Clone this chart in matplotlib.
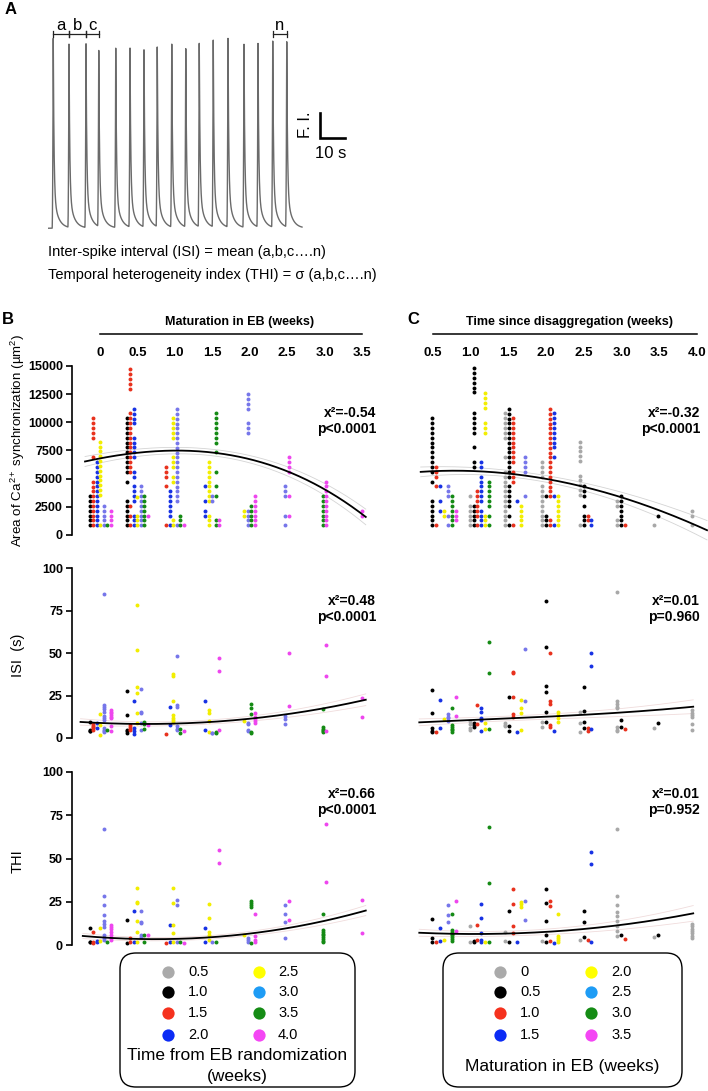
import numpy as np
import matplotlib
matplotlib.use("Agg")
import matplotlib.pyplot as plt
from matplotlib.patches import FancyBboxPatch

plt.rcParams['font.family'] = ['Liberation Sans', 'DejaVu Sans']
plt.rcParams['mathtext.fontset'] = 'custom'
plt.rcParams['mathtext.rm'] = 'Liberation Sans'
plt.rcParams['mathtext.it'] = 'Liberation Sans:italic'
plt.rcParams['mathtext.bf'] = 'Liberation Sans:bold'

# ---------------- Panel A: example trace ----------------
SPIKE_TIMES = [2.1, 8.4, 15.2, 20.3, 27.1, 32.8, 38.4, 43.7, 49.5, 55.1, 60.5,
               66.1, 72.0, 78.4, 84.0, 89.9, 95.5]
SPIKE_AMPS = [7.60, 7.33, 7.53, 7.16, 7.24, 7.26, 7.26, 7.33, 7.40, 7.33, 7.46,
              7.50, 7.69, 7.40, 7.40, 7.53, 7.46]
TRACE_END = 101.6
BRACKETS = [("a", 0, 1), ("b", 1, 2), ("c", 2, 3), ("n", 15, 16)]

# ---------------- categories ----------------
B_CATS = ["0.5", "1.0", "1.5", "2.0", "2.5", "3.0", "3.5", "4.0"]   # time from EB randomization
C_CATS = ["0", "0.5", "1.0", "1.5", "2.0", "2.5", "3.0", "3.5"]     # maturation in EB
PLOT_COLORS = ['#a8a8a8', '#000000', '#e8311d', '#1732e4', '#f2ee00', '#7676ea', '#148a14', '#ee46ee']
LEGEND_COLORS = ['#aaaaaa', '#000000', '#f5321e', '#0b2bf5', '#ffff00', '#1e9cf5', '#158c15', '#f446f4']
B_WEEK_TICKS = [0, 0.5, 1.0, 1.5, 2.0, 2.5, 3.0, 3.5]
B_WEEK_LABELS = ["0", "0.5", "1.0", "1.5", "2.0", "2.5", "3.0", "3.5"]
C_WEEK_TICKS = [0.5, 1.0, 1.5, 2.0, 2.5, 3.0, 3.5, 4.0]
C_WEEK_LABELS = ["0.5", "1.0", "1.5", "2.0", "2.5", "3.0", "3.5", "4.0"]

# ---------------- Panel B data: {maturation week: {randomization group: values}} ----------------
B_AREA = {
    0.0: {"1.0": [860, 1290, 1720, 2150, 2580, 3010, 3440],
          "1.5": [860, 1290, 1720, 2150, 2580, 3010, 3440, 3870, 4300, 4730, 6900, 8640, 9080, 9520, 9960, 10400],
          "2.0": [860, 1290, 1720, 2150, 2590, 3020, 3450, 3880, 4310, 4740, 5180, 5610, 6040, 6470],
          "2.5": [860, 3540, 3970, 4400, 4840, 5270, 5700, 6130, 6560, 6990, 7420, 7850, 8280],
          "3.0": [860, 1290, 1720, 2150, 2580],
          "3.5": [860],
          "4.0": [860, 1290, 1720, 2150]},
    0.5: {"1.0": [860, 1290, 1720, 2150, 2580, 3010, 4740, 5610, 6050, 6480, 6910, 7340, 7780, 8210, 8640, 9080, 9520, 9960, 10400],
          "1.5": [860, 1720, 2580, 5610, 6050, 6480, 6910, 7340, 7780, 8210, 8640, 9080, 9510, 9940, 10370, 10800, 12980, 13410, 13840, 14270, 14700],
          "2.0": [860, 1290, 1720, 3020, 3450, 3880, 4310, 5180, 5610, 6910, 7340, 7780, 8210, 8640, 9900, 10340, 10770, 11200],
          "2.5": [860, 1290, 1720, 3400],
          "3.0": [860, 1290, 1720, 2150, 2580, 3020, 3450, 3880, 4310],
          "3.5": [860, 1290, 1720, 2150, 2580, 3010, 3440],
          "4.0": [1720]},
    1.0: {"1.5": [860, 4310, 5180, 5610, 6050],
          "2.0": [860, 1720, 2150, 2580, 3020, 3450, 3880],
          "2.5": [860, 1290, 4740, 5180, 6050, 6480, 6910, 8640, 9080, 9520, 9960, 10400],
          "3.0": [860, 3010, 3440, 3870, 4300, 4730, 5160, 5590, 6020, 6450, 6880, 7310, 7740, 8170, 8600, 9030, 9460, 9890, 10320, 10750, 11180],
          "3.5": [860, 1290, 1720],
          "4.0": [860]},
    1.5: {"2.0": [1720, 2150, 3020, 4310],
          "2.5": [860, 1290, 1720, 3020, 3450, 3880, 4310, 4740, 5180, 5610, 6040, 6470],
          "3.0": [3010, 3440],
          "3.5": [860, 1290, 3450, 4310, 5610, 7340, 8210, 8640, 9080, 9510, 9940, 10370, 10800],
          "4.0": [860, 1290]},
    2.0: {"2.5": [1720, 2150],
          "3.0": [860, 1290, 1720, 2150, 9080, 9510, 9940, 11200, 11640, 12070, 12500],
          "3.5": [860, 1290, 1720, 2150, 2580],
          "4.0": [860, 1290, 1720, 2150, 2580, 3010, 3440]},
    2.5: {"3.0": [860, 1720, 3450, 3880, 4310],
          "4.0": [1720, 3440, 5610, 6050, 6480, 6910]},
    3.0: {"3.5": [860, 1290, 1720, 2150, 2580, 3020, 3450],
          "4.0": [860, 1290, 1720, 2150, 2580, 3020, 3450, 3880, 4310, 4740]},
    3.5: {"4.0": [1720, 2150]},
}
B_ISI = {
    0.0: {"1.0": [9.6, 5.0, 4.2, 3.9], "1.5": [8.0, 7.2, 6.4, 5.6, 4.9], "2.0": [9.0, 6.0],
          "2.5": [14.0, 7.5, 2.0],
          "3.0": [84.5, 19.5, 18.5, 17.0, 15.5, 13.0, 12.0, 10.5, 6.0, 5.0, 4.0, 3.5],
          "3.5": [4.7], "4.0": [16.5, 15.5, 14.5, 13.5, 12.5, 11.5, 7.0, 4.0]},
    0.5: {"1.0": [27.5, 13.5, 5.0, 4.0, 3.0], "1.5": [7.8, 6.5, 5.5, 4.7], "2.0": [21.5, 6.0, 4.0, 2.5],
          "2.5": [78.5, 52.0, 30.0, 26.5, 14.5, 9.0], "3.0": [29.0, 15.5, 14.5, 8.8, 5.0],
          "3.5": [9.5, 8.5, 5.5], "4.0": [7.6]},
    1.0: {"1.5": [2.5], "2.0": [18.0, 7.5], "2.5": [37.5, 36.5, 21.5, 13.5, 12.0, 10.5, 9.5],
          "3.0": [48.0, 19.5, 18.0, 7.0, 5.5, 5.0], "3.5": [5.5, 3.0], "4.0": [3.9]},
    1.5: {"2.0": [21.5, 5.0], "2.5": [16.5, 15.0, 10.0, 3.5], "3.0": [3.0, 3.2], "3.5": [3.0, 3.4],
          "4.0": [47.0, 39.5, 4.5]},
    2.0: {"2.5": [10.0], "3.0": [9.0, 8.0, 5.0, 4.0], "3.5": [20.0, 17.5, 14.0, 3.8, 3.2],
          "4.0": [14.5, 12.5, 11.0, 10.0, 9.0]},
    2.5: {"3.0": [13.0, 11.0, 8.0], "4.0": [50.0, 19.0]},
    3.0: {"3.5": [17.0, 6.5, 5.5, 4.5, 4.0, 3.5], "4.0": [55.0, 36.5, 4.0]},
    3.5: {"4.0": [23.5, 12.5]},
}
B_THI = {
    0.0: {"1.0": [10.0, 2.0, 1.5], "1.5": [7.3, 2.0, 1.0], "2.0": [2.5, 1.5], "2.5": [10.0, 2.5],
          "3.0": [66.9, 28.1, 23.3, 17.3, 14.0, 12.1, 10.6, 6.0, 4.0, 3.0], "3.5": [2.0],
          "4.0": [11.5, 10.5, 9.0, 7.5, 5.5, 4.0, 3.0]},
    0.5: {"1.0": [14.4, 1.0], "1.5": [4.0, 1.5], "2.0": [19.8, 1.5],
          "2.5": [32.7, 25.0, 24.0, 14.0, 7.5, 2.0], "3.0": [19.6, 13.5, 12.5, 5.8, 4.6],
          "3.5": [5.5, 2.0], "4.0": [5.8]},
    1.0: {"1.5": [1.0], "2.0": [11.5, 1.5], "2.5": [32.7, 24.0, 11.5, 6.7, 2.0],
          "3.0": [26.0, 23.0, 2.0], "3.5": [1.5], "4.0": [1.0]},
    1.5: {"2.0": [9.6, 2.0], "2.5": [23.5, 15.7, 7.3, 6.0, 3.0], "3.0": [1.5], "3.5": [1.5],
          "4.0": [54.8, 47.5]},
    2.0: {"2.5": [5.8], "3.0": [4.2, 3.0, 2.0], "3.5": [25.6, 24.4, 23.0, 22.0, 1.0],
          "4.0": [17.9, 5.0, 3.0, 2.0]},
    2.5: {"3.0": [23.4, 17.7, 13.5, 3.8], "4.0": [25.6, 14.2]},
    3.0: {"3.5": [17.9, 8.5, 7.5, 6.5, 5.5, 4.5, 3.5, 2.5, 1.5], "4.0": [69.8, 36.4]},
    3.5: {"4.0": [26.0, 7.0]},
}

# ---------------- Panel C data: {time since disaggregation: {maturation group: values}} ----------------
C_AREA = {
    0.5: {"0.5": [860, 1290, 1720, 2150, 2580, 3010, 4740, 5610, 6050, 6480, 6910, 7340, 7780, 8210, 8640, 9080, 9520, 9960, 10400],
          "1.0": [860, 4310, 5180, 5610, 6050],
          "1.5": [2150, 3010, 4310],
          "2.0": [1720, 2150],
          "2.5": [860, 1720, 3450, 3880, 4310],
          "3.0": [860, 1290, 1720, 2150, 2580, 3010, 3440],
          "3.5": [1290, 1720, 2150]},
    1.0: {"0": [860, 1290, 1720, 2150, 2580, 3440],
          "0.5": [860, 1290, 1720, 2150, 2580, 6050, 6480, 7780, 9080, 9510, 9940, 10370, 10800, 12650, 13080, 13510, 13940, 14370, 14800],
          "1.0": [860, 1720, 2150, 2580, 3010, 3450, 3880],
          "1.5": [860, 1290, 1720, 2150, 3010, 3450, 3880, 4310, 4740, 5180, 6040, 6470],
          "2.0": [860, 1290, 1720, 9080, 9510, 9940, 11300, 11740, 12170, 12600],
          "3.0": [860, 1720, 2580, 3010, 3450, 3880, 4310, 4740]},
    1.5: {"0": [860, 1290, 1720, 2150, 2580, 3010, 3450, 3880, 4310, 4740, 5180, 5610, 6910, 8640, 9080, 9510, 9940, 10370, 10800],
          "0.5": [860, 1720, 2580, 3010, 3450, 3880, 4310, 5180, 5610, 6040, 6470, 6900, 7330, 7760, 8190, 8620, 9050, 9480, 9910, 10340, 10770, 11200],
          "1.0": [860, 4740, 5180, 5610, 6480, 6910, 7340, 7780, 8210, 8640, 9080, 9520, 9960, 10400],
          "1.5": [3010],
          "2.0": [860, 1290, 1720, 2150, 2580],
          "2.5": [3440, 5610, 6050, 6480, 6910]},
    2.0: {"0": [860, 1290, 1720, 2150, 2580, 3010, 3450, 3880, 4310, 5180, 5610, 6040, 6470],
          "0.5": [860, 1290, 1720, 3440],
          "1.0": [860, 1290, 3440, 3870, 4300, 4730, 5160, 5590, 6020, 6450, 6880, 7310, 7740, 8170, 8600, 9030, 9460, 9890, 10320, 10750, 11180],
          "1.5": [860, 3440, 6910, 7780, 8210, 8640, 9080, 9510, 9940, 10370, 10800],
          "2.0": [860, 1290, 1720, 2150, 2580, 3010, 3440]},
    2.5: {"0": [860, 3540, 3970, 4400, 4840, 5270, 6560, 6990, 7420, 7850, 8280],
          "0.5": [860, 1290, 1720, 2580, 3450, 3880, 4310],
          "1.0": [1290, 1720],
          "1.5": [860, 1290]},
    3.0: {"0": [860, 1290, 2580, 3010], "0.5": [860, 1290, 1720, 2150, 2580, 3010, 3440], "1.0": [860]},
    3.5: {"0": [860], "0.5": [1720]},
    4.0: {"0": [860, 1720, 2150]},
}
C_ISI = {
    0.5: {"0.5": [28.2, 14.5, 5.7, 4.1, 3.5], "1.0": [3.5], "1.5": [22.4, 5.7], "2.0": [11.0],
          "2.5": [14.0, 12.5, 11.5, 10.0], "3.0": [17.8, 7.5, 6.5, 5.5, 4.5, 3.8], "3.5": [24.3, 12.9]},
    1.0: {"0": [10.0, 8.0, 6.0, 4.5], "0.5": [8.8, 7.6, 6.3], "1.0": [19.4, 8.0],
          "1.5": [17.8, 15.5, 11.6, 10.5, 4.3], "2.0": [8.6, 5.3], "3.0": [56.7, 38.1, 5.1]},
    1.5: {"0": [8.8, 7.8, 6.8], "0.5": [24.1, 7.1, 4.1], "1.0": [39.0, 38.0, 24.1, 14.1, 12.5],
          "1.5": [3.7], "2.0": [22.1, 17.5, 14.9, 4.7], "2.5": [52.4, 21.5]},
    2.0: {"0": [9.4, 6.5], "0.5": [80.6, 53.7, 30.8, 27.3, 15.1, 9.4], "1.0": [49.8, 21.5, 20.1, 7.6, 6.3],
          "1.5": [4.1], "2.0": [15.5, 13.5, 11.5, 9.4]},
    2.5: {"0": [15.1, 8.8, 3.7], "0.5": [30.2, 16.1, 9.4, 5.7], "1.0": [6.1, 4.1], "1.5": [50.0, 42.2, 5.3]},
    3.0: {"0": [86.1, 21.5, 20.0, 18.5, 17.5, 6.5, 5.0, 4.1], "0.5": [10.7, 6.5], "1.0": [5.1]},
    3.5: {"0": [5.7], "0.5": [8.6]},
    4.0: {"0": [16.3, 15.0, 13.5, 12.4, 8.0, 4.7]},
}
C_THI = {
    0.5: {"0.5": [14.8, 4.2, 1.5], "1.0": [2.0], "1.5": [9.6, 2.5], "2.0": [3.0],
          "2.5": [23.3, 17.5, 13.2], "3.0": [17.7, 8.6, 7.5, 6.5, 5.5, 4.5, 3.5, 2.5], "3.5": [25.6, 8.3]},
    1.0: {"0": [11.2, 2.0], "0.5": [2.5, 1.5], "1.0": [11.4, 3.0], "1.5": [23.5, 15.8, 7.2, 3.0, 1.5],
          "2.0": [2.0], "3.0": [68.3, 35.6, 1.5]},
    1.5: {"0": [7.7, 2.5], "0.5": [19.6, 1.5], "1.0": [32.1, 23.7, 11.2, 6.7], "1.5": [1.5],
          "2.0": [25.0, 23.5, 22.0], "2.5": [25.6, 14.4]},
    2.0: {"0": [2.5], "0.5": [32.1, 24.0, 13.8, 6.0, 2.0], "1.0": [25.6, 22.7, 2.5], "1.5": [1.0],
          "2.0": [17.7, 5.0, 4.0, 3.0, 2.0]},
    2.5: {"0": [3.0], "0.5": [19.6, 13.2, 4.5], "1.0": [3.0], "1.5": [53.5, 46.6, 2.0]},
    3.0: {"0": [66.8, 28.3, 23.3, 19.0, 16.5, 14.0, 11.0, 8.0, 5.0], "0.5": [5.5], "1.0": [3.5]},
    3.5: {"0": [4.6], "0.5": [5.8]},
    4.0: {"0": [12.2, 10.8, 9.5, 8.2, 6.8, 5.3, 3.8]},
}

# ---------------- fitted curves ----------------
B_AREA_FIT_W = [-0.2, 0.357, 0.936, 1.56, 2.14, 2.58, 3.03, 3.34, 3.55]
B_AREA_FIT_V = [6500, 7250, 7480, 7160, 6500, 5620, 3840, 2510, 1700]
B_AREA_BAND = [450, 330, 280, 300, 350, 420, 520, 620, 700]
B_ISI_FIT_W = [-0.26, 0.0, 0.8, 1.34, 2.04, 2.58, 3.34, 3.55]
B_ISI_FIT_V = [9.3, 9.0, 8.4, 9.0, 11.2, 14.9, 20.4, 22.5]
B_ISI_BAND = [2.0, 1.5, 1.2, 1.2, 1.5, 2.0, 3.0, 3.5]
B_THI_FIT_W = [-0.23, 0.57, 1.46, 2.13, 2.58, 3.34, 3.55]
B_THI_FIT_V = [5.2, 3.5, 4.4, 7.1, 10.6, 17.3, 20.0]
B_THI_BAND = [1.5, 1.0, 1.0, 1.3, 1.7, 2.5, 3.0]
C_AREA_FIT_W = [0.171, 0.773, 1.386, 1.973, 2.42, 2.986, 3.504, 4.069, 4.215]
C_AREA_FIT_V = [5620, 5680, 5414, 5030, 4350, 3400, 2220, 830, 450]
C_AREA_BAND = [450, 300, 280, 300, 350, 450, 600, 800, 850]
C_ISI_FIT_W = [0.151, 1.0, 1.95, 3.0, 4.02]
C_ISI_FIT_V = [9.2, 10.8, 12.5, 15.0, 18.4]
C_ISI_BAND = [2.0, 1.5, 1.3, 2.5, 4.0]
C_THI_FIT_W = [0.151, 1.01, 1.95, 2.89, 4.02]
C_THI_FIT_V = [7.1, 6.3, 7.7, 11.0, 18.3]
C_THI_BAND = [2.0, 1.5, 1.5, 2.5, 4.5]

STATS_B = [("x²=-0.54", "p<0.0001"), ("x²=0.48", "p<0.0001"), ("x²=0.66", "p<0.0001")]
STATS_C = [("x²=-0.32", "p<0.0001"), ("x²=0.01", "p=0.960"), ("x²=0.01", "p=0.952")]

# ---------------- figure ----------------
W, H = 708, 1091
fig = plt.figure(figsize=(W / 100, H / 100), dpi=100)
fig.patch.set_facecolor('white')

bg = fig.add_axes([0, 0, 1, 1], zorder=5)
bg.set_xlim(0, W)
bg.set_ylim(H, 0)
bg.axis('off')
bg.patch.set_alpha(0)


def ax_px(x0, y0, x1, y1, z=1):
    a = fig.add_axes([x0 / W, 1 - y1 / H, (x1 - x0) / W, (y1 - y0) / H], zorder=z)
    a.patch.set_alpha(0)
    return a


# ---- Panel A ----
bg.text(5, 10, "A", fontsize=12, fontweight='bold', va='center', ha='left')
tax = ax_px(48, 15, 360, 235)
tax.set_xlim(0, 124.8)
tax.set_ylim(-0.27, 8.53)
tax.axis('off')
t = np.linspace(0, TRACE_END, 6000)
trace = np.zeros_like(t)
for ts, amp in zip(SPIKE_TIMES, SPIKE_AMPS):
    r = (t >= ts - 0.45) & (t < ts)
    trace[r] += amp * ((t[r] - (ts - 0.45)) / 0.45) ** 2
    d = t >= ts
    dt = t[d] - ts
    trace[d] += amp * (0.82 * np.exp(-dt / 0.3) + 0.18 * np.exp(-dt / 1.8))
tax.plot(t, trace, color='#6b6b6b', lw=1.0)
for lab, i0, i1 in BRACKETS:
    x0, x1 = SPIKE_TIMES[i0], SPIKE_TIMES[i1]
    tax.plot([x0, x1], [7.77, 7.77], color='#222222', lw=0.9)
    for xx in (x0, x1):
        tax.plot([xx, xx], [7.65, 7.89], color='#222222', lw=0.9)
    tax.text((x0 + x1) / 2, 8.13, lab, ha='center', va='center', fontsize=12)
# scale bar
tax.plot([108.8, 108.8, 118.8], [4.61, 3.61, 3.61], color='black', lw=1.9, solid_joinstyle='miter')
tax.text(102.8, 4.13, "F. I.", rotation=90, ha='center', va='center', fontsize=12)
tax.text(113.2, 3.01, "10 s", ha='center', va='center', fontsize=12)
bg.text(48, 252, "Inter-spike interval (ISI) = mean (a,b,c….n)", fontsize=10.5, va='center', ha='left')
bg.text(48, 275, "Temporal heterogeneity index (THI) = σ (a,b,c….n)", fontsize=10.5, va='center', ha='left')


# ---- helpers ----
def dodge_map(dicts, cats):
    weeks = sorted(set().union(*[set(d.keys()) for d in dicts]))
    out = {}
    for w in weeks:
        present = set()
        for d in dicts:
            present |= set(d.get(w, {}).keys())
        ordered = [c for c in cats if c in present]
        n = len(ordered)
        out[w] = {c: i - (n - 1) / 2 for i, c in enumerate(ordered)}
    return out


def draw_dots(ax, data, cats, dodge, step):
    for w, groups in data.items():
        for c, vals in groups.items():
            xi = w + dodge[w][c] * step
            ax.scatter([xi] * len(vals), vals, s=8, color=PLOT_COLORS[cats.index(c)],
                       linewidths=0, clip_on=False, zorder=2)


def draw_fit(ax, fw, fv, fb, band_color):
    deg = min(3, len(fw) - 2)
    xs = np.linspace(fw[0], fw[-1], 300)
    ys = np.polyval(np.polyfit(fw, fv, deg), xs)
    hb = np.polyval(np.polyfit(fw, fb, 2), xs)
    ax.plot(xs, ys + hb, color=band_color, lw=0.6, zorder=1, clip_on=False)
    ax.plot(xs, ys - hb, color=band_color, lw=0.6, zorder=1, clip_on=False)
    ax.plot(xs, ys, color='black', lw=1.3, zorder=3, clip_on=False)


def style_ax(ax, xlim, ylim, yticks, show_y):
    ax.set_xlim(xlim)
    ax.set_ylim(ylim)
    for s in ['top', 'right', 'bottom']:
        ax.spines[s].set_visible(False)
    ax.set_xticks([])
    if show_y:
        ax.spines['left'].set_linewidth(1.2)
        ax.set_yticks(yticks)
        ax.set_yticklabels([str(v) for v in yticks], fontweight='bold', fontsize=9)
        ax.tick_params(axis='y', length=4, width=1.2, pad=2.5)
    else:
        ax.spines['left'].set_visible(False)
        ax.set_yticks([])


def top_axis(x0, x1, xlim, ticks, labels, bounds):
    a = ax_px(x0, 326, x1, 334)
    a.set_xlim(xlim)
    for s in ['top', 'right', 'left']:
        a.spines[s].set_visible(False)
    a.spines['bottom'].set_linewidth(1.1)
    a.spines['bottom'].set_bounds(bounds[0], bounds[1])
    a.set_yticks([])
    a.set_xticks(ticks)
    a.set_xticklabels(labels, fontweight='bold', fontsize=9.5)
    a.set_xticks(list(bounds), minor=True)
    a.tick_params(axis='x', which='major', length=0, pad=9.5)
    a.tick_params(axis='x', which='minor', length=3.5, width=1.1, direction='out')


ROWS = [(366, 535, (0, 15000), [0, 2500, 5000, 7500, 10000, 12500, 15000]),
        (568, 738, (0, 100), [0, 25, 50, 75, 100]),
        (772, 945, (0, 100), [0, 25, 50, 75, 100])]

# ---- Panel B ----
B_XLIM = ((72 - 100) / 74.86, (366 - 100) / 74.86)
B_STEP = 3.5 / 74.86
b_dodge = dodge_map([B_AREA, B_ISI, B_THI], B_CATS)
b_data = [B_AREA, B_ISI, B_THI]
b_fits = [(B_AREA_FIT_W, B_AREA_FIT_V, B_AREA_BAND, '#d4d4d4'),
          (B_ISI_FIT_W, B_ISI_FIT_V, B_ISI_BAND, '#f0dcdc'),
          (B_THI_FIT_W, B_THI_FIT_V, B_THI_BAND, '#f0dcdc')]
for (y0, y1, ylim, yt), dat, fit in zip(ROWS, b_data, b_fits):
    ax = ax_px(72, y0, 366, y1, z=2)
    style_ax(ax, B_XLIM, ylim, yt, True)
    draw_fit(ax, *fit)
    draw_dots(ax, dat, B_CATS, b_dodge, B_STEP)

top_axis(72, 366, B_XLIM, B_WEEK_TICKS, B_WEEK_LABELS, (0, 3.5))
bg.text(240, 322, "Maturation in EB (weeks)", fontsize=9, fontweight='bold', ha='center', va='center')
bg.text(8, 319, "B", fontsize=12, fontweight='bold', ha='center', va='center')

# ---- Panel C ----
C_XLIM = (0.5 + (405 - 444) / 70.8, 0.5 + (708 - 444) / 70.8)
C_STEP = 3.9 / 70.8
c_dodge = dodge_map([C_AREA, C_ISI, C_THI], C_CATS)
c_data = [C_AREA, C_ISI, C_THI]
c_fits = [(C_AREA_FIT_W, C_AREA_FIT_V, C_AREA_BAND, '#d4d4d4'),
          (C_ISI_FIT_W, C_ISI_FIT_V, C_ISI_BAND, '#f0dcdc'),
          (C_THI_FIT_W, C_THI_FIT_V, C_THI_BAND, '#f0dcdc')]
for (y0, y1, ylim, yt), dat, fit in zip(ROWS, c_data, c_fits):
    ax = ax_px(405, y0, 708, y1, z=2)
    style_ax(ax, C_XLIM, ylim, yt, False)
    draw_fit(ax, *fit)
    draw_dots(ax, dat, C_CATS, c_dodge, C_STEP)

C_TOP_XLIM = (0.5 + (405 - 433) / 75.43, 0.5 + (708 - 433) / 75.43)
top_axis(405, 708, C_TOP_XLIM, C_WEEK_TICKS, C_WEEK_LABELS, (0.5, 4.0))
bg.text(570, 322, "Time since disaggregation (weeks)", fontsize=9, fontweight='bold', ha='center', va='center')
bg.text(413, 319, "C", fontsize=12, fontweight='bold', ha='center', va='center')

# ---- stats text ----
BASELINES = [(417, 433), (605, 621), (798, 814)]
for (l1, l2), (yb1, yb2) in zip(STATS_B, BASELINES):
    bg.text(376, yb1, l1, ha='right', va='baseline', fontsize=10, fontweight='bold')
    bg.text(376, yb2, l2, ha='right', va='baseline', fontsize=10, fontweight='bold')
for (l1, l2), (yb1, yb2) in zip(STATS_C, BASELINES):
    bg.text(700, yb1, l1, ha='right', va='baseline', fontsize=10, fontweight='bold')
    bg.text(700, yb2, l2, ha='right', va='baseline', fontsize=10, fontweight='bold')

# ---- y labels ----
bg.text(18, 440, r"Area of Ca$^{2+}$ synchronization (µm$^{2}$)", rotation=90,
        ha='center', va='center', fontsize=9.6)
bg.text(18, 655, "ISI  (s)", rotation=90, ha='center', va='center', fontsize=10.5)
bg.text(18, 861, "THI", rotation=90, ha='center', va='center', fontsize=10.5)


# ---- legends ----
def legend_box(x0, x1, cats, m1, l1, m2, l2, title_lines, title_ys):
    bg.add_patch(FancyBboxPatch((x0, 953), x1 - x0, 134,
                                boxstyle="round,pad=0,rounding_size=16",
                                fc='white', ec='black', lw=1.0, zorder=1))
    rows = [972, 992, 1013, 1035]
    for i, c in enumerate(cats):
        col, row = divmod(i, 4)
        mx, lx = (m1, l1) if col == 0 else (m2, l2)
        bg.scatter([mx], [rows[row]], s=78, color=LEGEND_COLORS[i], linewidths=0, zorder=2)
        bg.text(lx, rows[row], c, ha='left', va='center', fontsize=10.5, zorder=2)
    for tl, ty in zip(title_lines, title_ys):
        bg.text((x0 + x1) / 2, ty, tl, ha='center', va='center', fontsize=12.5, zorder=2)


legend_box(120, 355, B_CATS, 168, 188, 259, 278,
           ["Time from EB randomization", "(weeks)"], [1056, 1077])
legend_box(443, 682, C_CATS, 500, 520, 591, 611,
           ["Maturation in EB (weeks)"], [1067])

fig.savefig("out.png", dpi=100, facecolor='white')
